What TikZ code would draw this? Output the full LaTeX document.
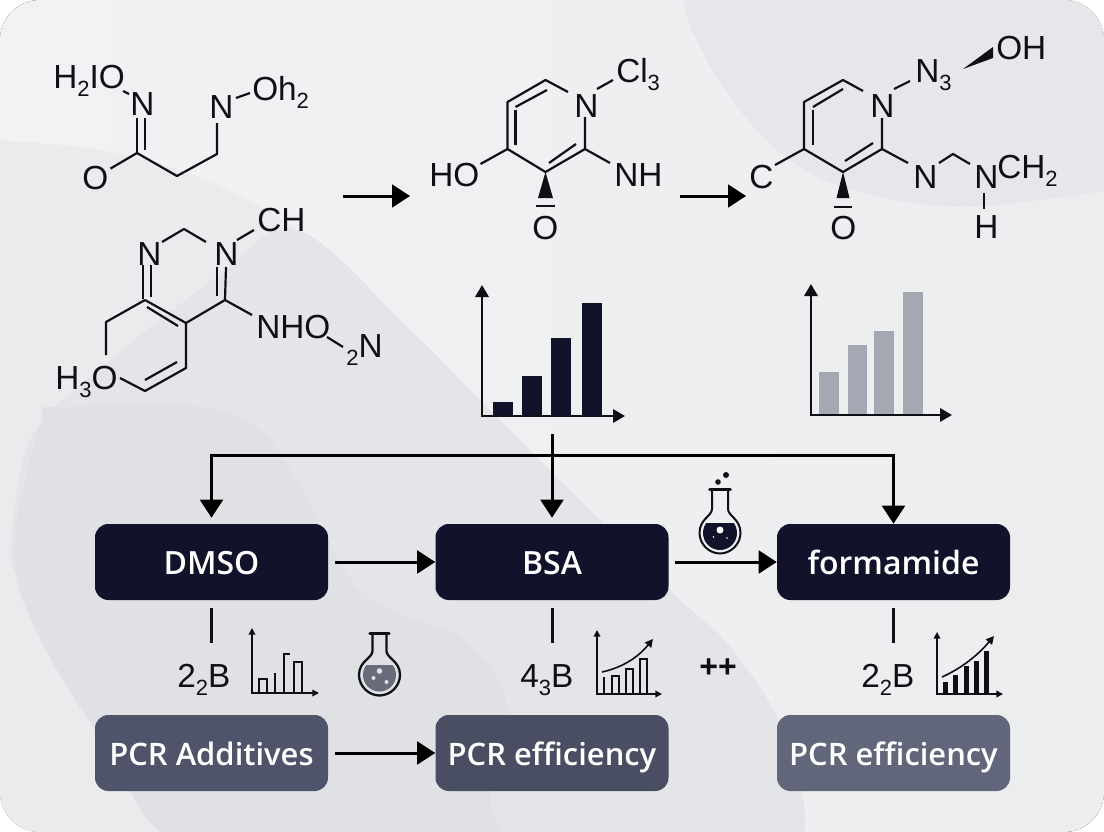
\documentclass[tikz,border=0pt]{standalone}
\usepackage{fontspec}
\setmainfont{Liberation Sans}
\newfontfamily\boxfont{Open Sans}[UprightFont=* Semibold]
\usepackage{tikz}
\usetikzlibrary{arrows.meta}
\definecolor{boxNavy}{RGB}{18, 19, 43}
\definecolor{boxSlate}{RGB}{80, 84, 106}
\definecolor{boxDeep}{RGB}{74, 78, 98}
\definecolor{boxPale}{RGB}{98, 102, 122}
\definecolor{barGray}{RGB}{165, 168, 178}
\definecolor{inkBlack}{RGB}{15, 15, 22}
\definecolor{flaskGray}{RGB}{104, 107, 122}
\definecolor{bgLight}{RGB}{241, 242, 243}
\definecolor{bgDark}{RGB}{236, 237, 239}
\definecolor{blobTop}{RGB}{230, 231, 234}
\definecolor{blobFaint}{RGB}{234, 235, 237}
\definecolor{blobMid}{RGB}{228, 229, 232}
\definecolor{blobDeep}{RGB}{224, 225, 229}
\newcommand{\lowsub}[1]{\raisebox{-0.26em}{\fontsize{16.5}{16.5}\selectfont #1}}
\tikzset{
  atom/.style={anchor=base west, inner sep=1.5pt, font=\fontsize{25}{25}\selectfont, text=inkBlack},
  bond/.style={draw=inkBlack, line width=1.65pt, line join=round},
  wedge/.style={fill=inkBlack},
  mainbox/.style={fill=boxNavy, text=white, rounded corners=10pt, minimum width=174.75pt, minimum height=57pt, inner sep=0pt, text height=22.5pt, text depth=4pt, font=\boxfont\fontsize{24}{24}\selectfont},
  subbox/.style={text=white, rounded corners=10pt, minimum width=174.75pt, minimum height=57pt, inner sep=0pt, text height=22pt, text depth=4pt, font=\boxfont\fontsize{23.2}{24}\selectfont},
  flowline/.style={draw=black, line width=2.25pt, -{Triangle[length=13.5pt, width=17pt]}},
  stem/.style={draw=inkBlack, line width=2.25pt},
  axisbig/.style={draw=inkBlack, line width=1.9pt, {Triangle[length=9pt, width=10pt]}-{Triangle[length=9pt, width=10pt]}, line join=miter},
  axissmall/.style={draw=inkBlack, line width=1.1pt, {Triangle[length=5pt, width=5pt]}-{Triangle[length=5pt, width=5pt]}},
  trend/.style={draw=inkBlack, line width=1.2pt, -{Triangle[length=6pt, width=6pt]}},
  openbar/.style={draw=inkBlack, line width=1.1pt},
}
\begin{document}
\begin{tikzpicture}[x=0.75pt, y=-0.75pt]
  \useasboundingbox (0,0) rectangle (1104,832);
  % backdrop
  \begin{scope}
    \clip[rounded corners=30pt] (0,0) rectangle (1104,832);
    \fill[left color=bgLight, right color=bgDark] (0,0) rectangle (1104,832);
    \fill[blobTop] plot[smooth, tension=0.6] coordinates {(682,-5) (693,33) (727,93) (777,150) (843,187) (960,207) (1110,190)} -- (1110,-5) -- cycle;
    \fill[blobFaint] plot[smooth, tension=0.6] coordinates {(-5,140) (100,150) (197,177) (297,230) (410,330) (480,400) (600,520) (680,600) (727,643) (777,717) (803,800) (803,840)} -- (-5,840) -- cycle;
    \fill[blobMid] plot[smooth, tension=0.6] coordinates {(10,560) (30,440) (107,363) (217,277) (297,230) (410,330) (480,400) (600,520) (680,600) (727,643) (777,717) (803,800) (803,840)} -- (196,840) -- (107,747) -- (36,630) -- cycle;
    \fill[blobDeep] plot[smooth cycle, tension=0.6] coordinates {(14,547) (40,427) (64,407) (250,423) (357,587) (464,640) (507,707) (490,797) (480,850) (196,850) (107,747) (36,630)};
  \end{scope}
  % first molecule
  \node[atom] (hio) at (51,88) {H\lowsub{2}IO};
  \node[atom] (ox) at (80,189) {O};
  \node[atom] (nl) at (128,115) {N};
  \node[atom] (nr) at (207,118) {N};
  \node[atom] (oh) at (250,100) {Oh\lowsub{2}};
  \coordinate (hioEnd) at (123,91);
  \coordinate (ca) at (137,153);
  \coordinate (cb) at (177,176);
  \coordinate (cc) at (217,154);
  \draw[bond] (hioEnd) -- (129,94);
  \draw[bond] (137,118) -- (ca);
  \draw[bond] (145,118) -- (145,150);
  \draw[bond] (ox) -- (ca) -- (cb) -- (cc) -- (217,123);
  \draw[bond] (236,98) -- (250,93);
  % second molecule
  \node[atom] (na) at (135,265) {N};
  \node[atom] (nb) at (212,265) {N};
  \node[atom] (ch) at (255,231) {CH};
  \node[atom] (nho) at (254,338) {NHO};
  \node[atom] (twon) at (344,357) {\lowsub{2}N};
  \node[atom] (hto) at (53,389) {H\lowsub{3}O};
  \coordinate (da) at (184,229);
  \coordinate (db) at (145,300);
  \coordinate (dc) at (186,323);
  \coordinate (dd) at (225,300);
  \coordinate (de) at (106,322);
  \coordinate (df) at (145,391);
  \coordinate (dg) at (186,368);
  \draw[bond] (162,242) -- (da) -- (206,242);
  \draw[bond] (237,240) -- (254,230);
  \draw[bond] (143,265) -- (143,299);
  \draw[bond] (151,265) -- (151,297);
  \draw[bond] (217,267) -- (217,296);
  \draw[bond] (226,267) -- (dd);
  \draw[bond] (db) -- (dc) -- (dd) -- (252,315);
  \draw[bond] (147,307) -- (178,326);
  \draw[bond] (db) -- (de) -- (106,355);
  \draw[bond] (120,378) -- (df) -- (dg) -- (dc);
  \draw[bond] (145,380) -- (177,362);
  \draw[bond] (327,337) -- (343,347);
  % third molecule
  \node[atom] (ncl) at (572,117) {N};
  \node[atom] (cl) at (614,82) {Cl\lowsub{3}};
  \node[atom] (ho) at (427,186) {HO};
  \node[atom] (nh) at (612,186) {NH};
  \node[atom] (om) at (530,239) {O};
  \coordinate (ea) at (545.5,80);
  \coordinate (eb) at (507.5,102);
  \coordinate (ec) at (507.5,149);
  \coordinate (ed) at (545.5,172);
  \coordinate (ee) at (585,149);
  \draw[bond] (568,92) -- (ea) -- (eb) -- (ec) -- (ed) -- (ee) -- (585,117);
  \draw[bond] (515.5,107) -- (547,90);
  \draw[bond] (515.5,110) -- (515.5,145);
  \draw[bond] (549,163) -- (576,144);
  \draw[bond] (597,89) -- (613,80);
  \draw[bond] (480.5,164) -- (ec);
  \draw[bond] (ee) -- (610,163);
  \fill[wedge] (ed) -- (553,198) -- (538,198) -- cycle;
  \draw[inkBlack, line width=1.9pt] (536,206) -- (555,206);
  % fourth molecule
  \node[atom] (nn) at (868,117) {N};
  \node[atom] (nthree) at (913,82) {N\lowsub{3}};
  \node[atom] (ohtop) at (994,59) {OH};
  \node[atom] (cc4) at (747,188) {C};
  \node[atom] (nmid) at (911,188) {N};
  \node[atom] (nend) at (972,188) {N};
  \node[atom] (chtwo) at (995,178) {CH\lowsub{2}};
  \node[atom] (hb) at (972,238) {H};
  \node[atom] (om2) at (828,239) {O};
  \coordinate (fa) at (843,80);
  \coordinate (fb) at (804,102);
  \coordinate (fc) at (804,149);
  \coordinate (fd) at (843,172);
  \coordinate (fe) at (882,149);
  \draw[bond] (863,91) -- (fa) -- (fb) -- (fc) -- (fd) -- (fe) -- (882,118);
  \draw[bond] (813,107) -- (843,89);
  \draw[bond] (813,110) -- (813,145);
  \draw[bond] (845,161) -- (873,143);
  \draw[bond] (894,89) -- (910,81);
  \draw[bond] (fc) -- (775,165);
  \draw[bond] (fe) -- (908,163);
  \draw[bond] (939,163) -- (953,154) -- (970,164);
  \draw[bond] (984,193) -- (984,209);
  \fill[wedge] (963,69) -- (993,47) -- (993,58) -- cycle;
  \fill[wedge] (fd) -- (849.5,198) -- (836.5,198) -- cycle;
  \draw[inkBlack, line width=1.9pt] (834,207) -- (852,207);
  % reaction arrows
  \coordinate (arrA) at (343,196);
  \coordinate (arrB) at (410,196);
  \coordinate (arrC) at (680,196);
  \coordinate (arrD) at (746,196);
  \draw[flowline] (arrA) -- (arrB);
  \draw[flowline] (arrC) -- (arrD);
  % dark chart
  \coordinate (chAo) at (482,416);
  \fill[boxNavy] (493,402) rectangle (513,416);
  \fill[boxNavy] (522,376) rectangle (542,416);
  \fill[boxNavy] (551,338) rectangle (571,416);
  \fill[boxNavy] (582,303) rectangle (602,416);
  \draw[axisbig] (482,285) -- (chAo) -- (625,416);
  % gray chart
  \coordinate (chBo) at (811,415);
  \fill[barGray] (819,372) rectangle (839,415);
  \fill[barGray] (848,345) rectangle (867,415);
  \fill[barGray] (874,331) rectangle (894,415);
  \fill[barGray] (903,292) rectangle (923,415);
  \draw[axisbig] (811,284) -- (chBo) -- (952,415);
  % boxes
  \node[mainbox] (dmso) at (211.5,562) {DMSO};
  \node[mainbox] (bsa) at (552,562) {BSA};
  \node[mainbox] (formamide) at (893.5,562) {formamide};
  \node[subbox, fill=boxSlate] (additives) at (211.5,753) {PCR Additives};
  \node[subbox, fill=boxDeep] (effA) at (552,753) {PCR efficiency};
  \node[subbox, fill=boxPale] (effB) at (893.5,753) {PCR efficiency};
  % top distribution
  \coordinate (busTop) at (552,434);
  \coordinate (busMid) at (552,455);
  \draw[flowline, shorten >=4.5pt] (busTop) -- (bsa.north);
  \draw[flowline, shorten >=4.5pt] (busMid) -| (dmso.north);
  \draw[flowline] (busMid) -| (formamide.north);
  % box arrows
  \draw[flowline, shorten <=5pt] (dmso.east) -- (bsa.west);
  \draw[flowline, shorten <=5pt] (bsa.east) -- (formamide.west);
  \draw[flowline, shorten <=5pt] (additives.east) -- (effA.west);
  % stems and labels
  \coordinate (stemA) at (211.5,643);
  \coordinate (stemB) at (552,643);
  \coordinate (stemC) at (893.5,643);
  \draw[stem] ([yshift=-6pt]dmso.south) -- (stemA);
  \draw[stem] ([yshift=-6pt]bsa.south) -- (stemB);
  \draw[stem] ([yshift=-6pt]formamide.south) -- (stemC);
  \node[atom] (labA) at (175,687) {2\lowsub{2}B};
  \node[atom] (labB) at (518,687) {4\lowsub{3}B};
  \node[atom] (labC) at (859,687) {2\lowsub{2}B};
  \node[font=\bfseries\fontsize{24}{24}\selectfont, text=inkBlack, inner sep=0pt] (plus) at (718,668) {++};
  % small chart one
  \draw[axissmall] (252,628) -- (252,693) -- (319,693);
  \draw[openbar] (259,693) -- (259,679) -- (267,679) -- (267,693);
  \draw[openbar] (275,693) -- (275,673);
  \draw[openbar] (284,693) -- (284,654) -- (290,654);
  \draw[openbar] (294,693) -- (294,662) -- (302,662) -- (302,693);
  % small chart two
  \draw[axissmall] (597,630) -- (597,694) -- (662,694);
  \draw[openbar] (604,694) -- (604,677);
  \draw[openbar] (612,694) -- (612,676) -- (619,676) -- (619,694);
  \draw[openbar] (626,694) -- (626,669) -- (633,669) -- (633,694);
  \draw[openbar] (640,694) -- (640,659) -- (647,659) -- (647,694);
  \draw[trend] (602,672) .. controls (625,667) and (640,655) .. (653,639);
  % small chart three
  \fill[inkBlack] (943,682) rectangle (948,694);
  \fill[inkBlack] (953,675) rectangle (958,694);
  \fill[inkBlack] (964,666) rectangle (969,694);
  \fill[inkBlack] (974,661) rectangle (979,694);
  \fill[inkBlack] (984,651) rectangle (989,694);
  \draw[axissmall] (937,632) -- (937,694) -- (1003,694);
  \draw[trend] (942,677) .. controls (962,668) and (978,655) .. (994,636);
  % gray flask
  \begin{scope}[shift={(379.5,675)}]
    \begin{scope}
      \clip (-21,-10) rectangle (21,21);
      \fill[flaskGray] (0,0) circle [radius=16.5];
    \end{scope}
    \draw[inkBlack, line width=1.7pt] (-7,-41) -- (-7,-24) .. controls (-7,-17) and (-20.5,-14) .. (-20.5,0) .. controls (-20.5,11) and (-11,20.5) .. (0,20.5) .. controls (11,20.5) and (20.5,11) .. (20.5,0) .. controls (20.5,-14) and (7,-17) .. (7,-24) -- (7,-41);
    \draw[inkBlack, line width=2.4pt, line cap=round] (-9.5,-41.5) -- (9.5,-41.5);
    \fill[white!88!black] (0,-4) circle [radius=2.8];
    \fill[white!88!black] (-6,3) circle [radius=2];
    \fill[white!88!black] (7,7) circle [radius=2];
  \end{scope}
  % dark flask
  \begin{scope}[shift={(720,533)}]
    \begin{scope}
      \clip (-21,-10) rectangle (21,21);
      \fill[boxNavy] (0,0) circle [radius=17];
    \end{scope}
    \draw[inkBlack, line width=1.5pt] (-8,-43) -- (-8,-24) .. controls (-8,-17) and (-20.5,-14) .. (-20.5,0) .. controls (-20.5,11) and (-11,20.5) .. (0,20.5) .. controls (11,20.5) and (20.5,11) .. (20.5,0) .. controls (20.5,-14) and (8,-17) .. (8,-24) -- (8,-43);
    \draw[inkBlack, line width=2.2pt, line cap=round] (-10.5,-43.5) -- (10.5,-43.5);
    \fill[white] (0,-3) circle [radius=3.5];
    \fill[white] (-6.5,4) circle [radius=0.9];
    \fill[white] (7,5) circle [radius=0.9];
    \fill[inkBlack] (-2,-51) circle [radius=2.8];
    \fill[inkBlack] (6,-58) circle [radius=3];
  \end{scope}
\end{tikzpicture}
\end{document}
